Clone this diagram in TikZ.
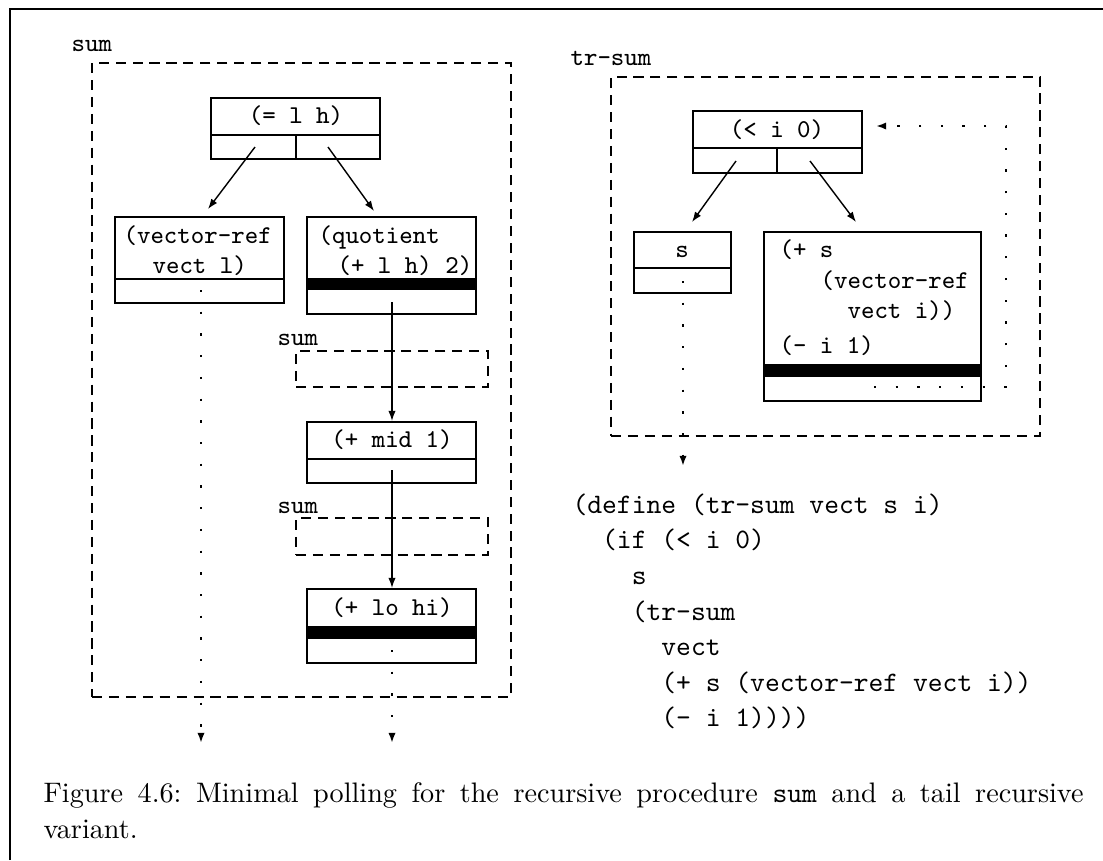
\documentclass[tikz,border=0pt]{standalone}
\usetikzlibrary{arrows.meta,fit}
\begin{document}
\frenchspacing
\begin{tikzpicture}[x=0.3546pt,y=-0.3546pt,
  cell/.style={draw,line width=1pt,inner sep=0pt},
  dbox/.style={draw,line width=1pt,inner sep=0pt,dash pattern=on 3.6pt off 2.4pt},
  btxt/.style={font=\fontsize{9.1}{11}\selectfont\ttfamily,inner sep=0pt,anchor=base west},
  ctxt/.style={font=\fontsize{9.1}{11}\selectfont\ttfamily,inner sep=0pt,anchor=base},
  codetxt/.style={font=\fontsize{10}{12}\selectfont\ttfamily,inner sep=0pt,anchor=base west},
  captxt/.style={font=\fontsize{10}{12}\selectfont,inner sep=0pt,anchor=base west},
  conn/.style={line width=0.5pt,-{Latex[length=3.6pt,width=2.6pt]}},
  dotconn/.style={line width=0.8pt,dash pattern=on 0.8pt off 6.9pt,-{Latex[length=3.6pt,width=2.6pt]}},
  divider/.style={line width=1pt},
  band/.style={fill=black}
]
\useasboundingbox (0,0) rectangle (1103,860);
\draw[line width=1pt] (10,860) -- (10,9) -- (1103,9);

% ---------------- left: sum ----------------
\node[btxt] (lsum) at (71,51) {sum};
\node[dbox,fit={(92,63) (511,697)}] (Lframe) {};

% (= l h)
\node[cell,fit={(211,98) (380,159)}] (A) {};
\draw[divider] (211,135) -- (380,135) (296,135) -- (296,159);
\node[ctxt] (Atxt) at (296,123) {(= l h)};
\coordinate (Aleft) at (255,147);
\coordinate (Aright) at (328,147);

% (vector-ref vect l)
\node[cell,fit={(115,217) (284,303)}] (B) {};
\draw[divider] (115,279) -- (284,279);
\node[btxt] (Btxt1) at (123,243) {(vector-ref};
\node[btxt] (Btxt2) at (152,273) {vect l)};
\coordinate (Bin) at (208,209);
\coordinate (Bdot) at (201,290);
\coordinate (Bend) at (201,743);

% (quotient (+ l h) 2)
\node[cell,fit={(307,217) (476,314)}] (C) {};
\fill[band] (307,278) rectangle (476,290);
\node[btxt] (Ctxt1) at (318,243) {(quotient};
\node[btxt] (Ctxt2) at (337,273) {(+ l h) 2)};
\coordinate (Cin) at (374,211);
\coordinate (Cout) at (392,302);

% first recursive call
\node[btxt] (sum2) at (277,345) {sum};
\node[dbox,fit={(296,351) (488,387)}] (D1) {};

% (+ mid 1)
\node[cell,fit={(307,422) (476,483)}] (E) {};
\draw[divider] (307,459) -- (476,459);
\node[ctxt] (Etxt) at (392,447) {(+ mid 1)};
\coordinate (Ein) at (392,421);
\coordinate (Eout) at (392,470);

% second recursive call
\node[btxt] (sum3) at (277,513) {sum};
\node[dbox,fit={(296,518) (488,555)}] (D2) {};

% (+ lo hi)
\node[cell,fit={(307,589) (476,663)}] (F) {};
\fill[band] (307,626) rectangle (476,639);
\node[ctxt] (Ftxt) at (392,615) {(+ lo hi)};
\coordinate (Fin) at (392,588);
\coordinate (Fdot) at (392,650);
\coordinate (Fend) at (392,743);

\draw[conn] (Aleft) -- (Bin);
\draw[conn] (Aright) -- (Cin);
\draw[conn] (Cout) -- (Ein);
\draw[conn] (Eout) -- (Fin);
\draw[dotconn] (Bdot) -- (Bend);
\draw[dotconn] (Fdot) -- (Fend);

% ---------------- right: tr-sum ----------------
\node[btxt] (ltr) at (570,65) {tr-sum};
\node[dbox,fit={(611,77) (1040,436)}] (Rframe) {};

% (< i 0)
\node[cell,fit={(693,111) (862,173)}] (G) {};
\draw[divider] (693,148) -- (862,148) (777,148) -- (777,173);
\node[ctxt] (Gtxt) at (777,137) {(< i 0)};
\coordinate (Gleft) at (736,161);
\coordinate (Gright) at (810,161);
\coordinate (Gback) at (876,126);

% s
\node[cell,fit={(634,232) (731,293)}] (H) {};
\draw[divider] (634,268) -- (731,268);
\node[ctxt] (Htxt) at (682,257) {s};
\coordinate (Hin) at (692,222);
\coordinate (Hdot) at (683,281);
\coordinate (Hend) at (683,466);

% (+ s (vector-ref vect i)) (- i 1)
\node[cell,fit={(764,232) (981,401)}] (K) {};
\fill[band] (764,364) rectangle (981,377);
\node[btxt] (Ktxt1) at (779,257) {(+ s};
\node[btxt] (Ktxt2) at (820,288) {(vector-ref};
\node[btxt] (Ktxt3) at (847,318) {vect i))};
\node[btxt] (Ktxt4) at (779,353) {(- i 1)};
\coordinate (Kin) at (856,222);
\coordinate (Kdot) at (874,387);
\coordinate (Kc1) at (1006,387);
\coordinate (Kc2) at (1006,126);

\draw[conn] (Gleft) -- (Hin);
\draw[conn] (Gright) -- (Kin);
\draw[dotconn] (Hdot) -- (Hend);
\draw[dotconn] (Kdot) -- (Kc1) -- (Kc2) -- (Gback);

% code
\node[codetxt] (c1) at (572,513) {(define (tr-sum vect s i)};
\node[codetxt] (c2) at (572,548) {\ \ (if (< i 0)};
\node[codetxt] (c3) at (572,584) {\ \ \ \ s};
\node[codetxt] (c4) at (572,620) {\ \ \ \ (tr-sum};
\node[codetxt] (c5) at (572,655) {\ \ \ \ \ \ vect};
\node[codetxt] (c6) at (572,691) {\ \ \ \ \ \ (+ s (vector-ref vect i))};
\node[codetxt] (c7) at (572,726) {\ \ \ \ \ \ (- i 1))))};

% caption
\node[captxt] (cap1) at (43,802) {\makebox[368.8pt][s]{Figure 4.6: Minimal polling for the recursive procedure \texttt{sum} and a tail recursive}};
\node[captxt] (cap2) at (43,838) {variant.};
\end{tikzpicture}
\end{document}
